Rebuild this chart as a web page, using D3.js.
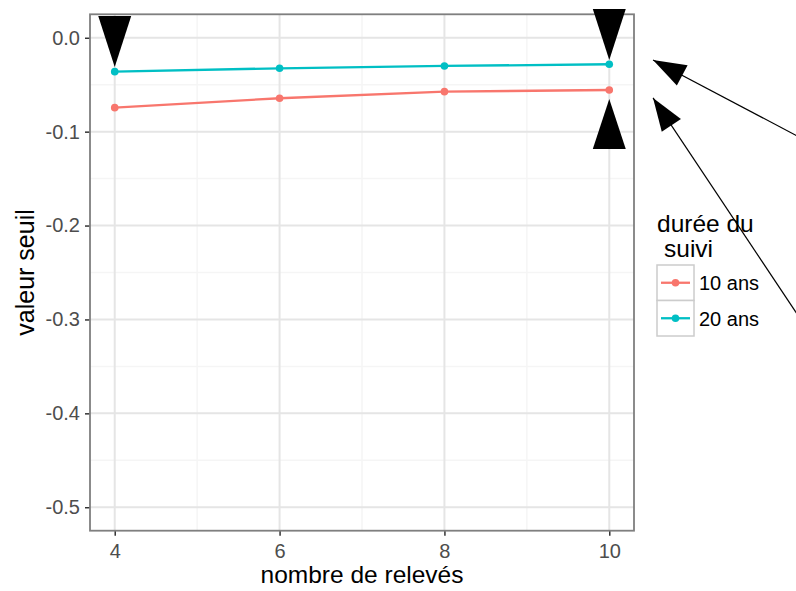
<!DOCTYPE html>
<html>
<head>
<meta charset="utf-8">
<script src="https://cdn.jsdelivr.net/npm/d3@7"></script>
<style>
  html, body { margin: 0; padding: 0; background: #fff; }
  svg { display: block; font-family: "Liberation Sans", Arial, sans-serif; }
</style>
</head>
<body>
<svg id="chart" width="796" height="591"></svg>
<script>
// ---- data ----
const releves = [4, 6, 8, 10];
const serie10ans = [-0.0744, -0.0644, -0.0574, -0.0556];
const serie20ans = [-0.0361, -0.0325, -0.0300, -0.0282];
const seriesNames = ["10 ans", "20 ans"];
const xTicks = [4, 6, 8, 10];
const yTicks = [0.0, -0.1, -0.2, -0.3, -0.4, -0.5];
const xMinor = [5, 7, 9];
const yMinor = [0.025, -0.05, -0.15, -0.25, -0.35, -0.45];
// annotation triangles (data coords: x, apex y, base y)
const triX = [4, 10, 10];
const triTip = [-0.0311, -0.0236, -0.0652];
const triBase = [0.0232, 0.0307, -0.1184];
// annotation arrows (data coords, outside panel)
const arrowTipX = [10.531, 10.531];
const arrowTipY = [-0.0236, -0.0641];
const arrowTailX = [12.30, 12.30];
const arrowTailY = [-0.1055, -0.2970];

// ---- layout ----
const colors = ["#F8766D", "#00BFC4"];
const panel = { left: 90, right: 634, top: 14.3, bottom: 530.7 };

const svg = d3.select("#chart");
const x = d3.scaleLinear().domain([3.7, 10.3]).range([panel.left, panel.right]);
const y = d3.scaleLinear().domain([-0.525, 0.025]).range([panel.bottom, panel.top]);

// panel background
svg.append("rect").attr("x", panel.left).attr("y", panel.top)
  .attr("width", panel.right - panel.left).attr("height", panel.bottom - panel.top)
  .attr("fill", "#fff");

const grid = svg.append("g");
// minor grid
grid.selectAll(".mx").data(xMinor).enter().append("line")
  .attr("x1", d => x(d)).attr("x2", d => x(d))
  .attr("y1", panel.top).attr("y2", panel.bottom)
  .attr("stroke", "#f5f5f5").attr("stroke-width", 1.5);
grid.selectAll(".my").data(yMinor.filter(d => y(d) > panel.top + 1)).enter().append("line")
  .attr("y1", d => y(d)).attr("y2", d => y(d))
  .attr("x1", panel.left).attr("x2", panel.right)
  .attr("stroke", "#f5f5f5").attr("stroke-width", 1.5);
// major grid
grid.selectAll(".Mx").data(xTicks).enter().append("line")
  .attr("x1", d => x(d)).attr("x2", d => x(d))
  .attr("y1", panel.top).attr("y2", panel.bottom)
  .attr("stroke", "#e5e5e5").attr("stroke-width", 2);
grid.selectAll(".My").data(yTicks).enter().append("line")
  .attr("y1", d => y(d)).attr("y2", d => y(d))
  .attr("x1", panel.left).attr("x2", panel.right)
  .attr("stroke", "#e5e5e5").attr("stroke-width", 2);

// axes
const xAxis = d3.axisBottom(x).tickValues(xTicks).tickFormat(d3.format("d")).tickSize(5).tickPadding(8);
const yAxis = d3.axisLeft(y).tickValues(yTicks).tickFormat(d3.format(".1f")).tickSize(5).tickPadding(5);

const gx = svg.append("g").attr("transform", `translate(0,${panel.bottom})`).call(xAxis);
const gy = svg.append("g").attr("transform", `translate(${panel.left},0)`).call(yAxis);
[gx, gy].forEach(g => {
  g.select(".domain").remove();
  g.selectAll(".tick line").attr("stroke", "#333").attr("stroke-width", 1.5);
  g.selectAll(".tick text").attr("fill", "#4D4D4D").attr("font-size", "20px")
    .attr("font-family", "Liberation Sans, Arial, sans-serif");
});
gy.selectAll(".tick text").text(d => d3.format(".1f")(d).replace("−", "-"));
gx.selectAll(".tick text").attr("dy", "0.7em");

// data lines & points
const seriesData = [serie10ans, serie20ans];
const line = d3.line().x((d, i) => x(releves[i])).y(d => y(d));
seriesData.forEach((vals, s) => {
  svg.append("path").datum(vals).attr("d", line)
    .attr("fill", "none").attr("stroke", colors[s]).attr("stroke-width", 2.3);
  svg.selectAll(".pt" + s).data(vals).enter().append("circle")
    .attr("cx", (d, i) => x(releves[i])).attr("cy", d => y(d)).attr("r", 3.8)
    .attr("fill", colors[s]);
});

// panel border
svg.append("rect").attr("x", panel.left).attr("y", panel.top)
  .attr("width", panel.right - panel.left).attr("height", panel.bottom - panel.top)
  .attr("fill", "none").attr("stroke", "#7F7F7F").attr("stroke-width", 1.8);

// axis titles
svg.append("text").attr("x", (panel.left + panel.right) / 2).attr("y", 583)
  .attr("text-anchor", "middle").attr("font-size", "24.5px").attr("fill", "#000")
  .text("nombre de relevés");
svg.append("text").attr("transform", `translate(34,${(panel.top + panel.bottom) / 2}) rotate(-90)`)
  .attr("text-anchor", "middle").attr("font-size", "25px").attr("fill", "#000")
  .text("valeur seuil");

// legend
const lg = svg.append("g");
lg.append("text").attr("x", 657).attr("y", 232).attr("font-size", "24.5px").text("durée du");
lg.append("text").attr("x", 664).attr("y", 257).attr("font-size", "24.5px").text("suivi");
const keyTop = 265, keyH = 35.5, keyL = 657, keyW = 37;
seriesNames.forEach((name, s) => {
  const ky = keyTop + s * keyH;
  lg.append("rect").attr("x", keyL).attr("y", ky).attr("width", keyW).attr("height", keyH)
    .attr("fill", "#fff").attr("stroke", "#CCCCCC").attr("stroke-width", 1.5);
  const cy = ky + keyH / 2;
  lg.append("line").attr("x1", keyL + 4).attr("x2", keyL + keyW - 4)
    .attr("y1", cy).attr("y2", cy).attr("stroke", colors[s]).attr("stroke-width", 2.3);
  lg.append("circle").attr("cx", keyL + keyW / 2).attr("cy", cy).attr("r", 3.8).attr("fill", colors[s]);
  lg.append("text").attr("x", 699).attr("y", cy).attr("dy", "0.38em")
    .attr("font-size", "20px").attr("fill", "#000").text(name);
});

// annotations: triangles
const half = 0.2;
triX.forEach((tx, i) => {
  const pts = [[x(tx - half), y(triBase[i])], [x(tx + half), y(triBase[i])], [x(tx), y(triTip[i])]];
  svg.append("path").attr("d", "M" + pts.map(p => p.join(",")).join("L") + "Z").attr("fill", "#000");
});

// annotations: arrows
arrowTipX.forEach((ax, i) => {
  const x1 = x(ax), y1 = y(arrowTipY[i]);
  const x2 = x(arrowTailX[i]), y2 = y(arrowTailY[i]);
  svg.append("line").attr("x1", x1).attr("y1", y1).attr("x2", x2).attr("y2", y2)
    .attr("stroke", "#000").attr("stroke-width", 1.2);
  const dx = x2 - x1, dy = y2 - y1, len = Math.hypot(dx, dy);
  const ux = dx / len, uy = dy / len;
  const L = 33, W = 11.5;
  const bx = x1 + ux * L, by = y1 + uy * L;
  const p1 = [bx - uy * W, by + ux * W], p2 = [bx + uy * W, by - ux * W];
  svg.append("path").attr("d", `M${x1},${y1}L${p1[0]},${p1[1]}L${p2[0]},${p2[1]}Z`).attr("fill", "#000");
});
</script>
</body>
</html>
